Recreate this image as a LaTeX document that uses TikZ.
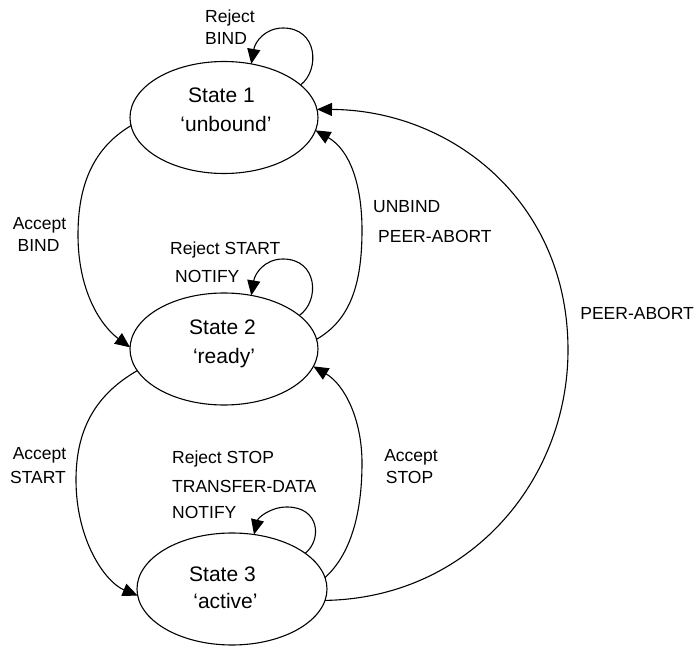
\documentclass[tikz,border=0pt]{standalone}
\usepackage{fontspec}
\setmainfont{Liberation Sans}
\usetikzlibrary{shapes.geometric,arrows.meta}
\begin{document}
\begin{tikzpicture}[x=1pt,y=-1pt,
  state/.style={ellipse,draw,line width=1.1pt,minimum width=188pt,minimum height=112pt,inner sep=0pt,outer sep=0pt},
  stxt/.style={font=\fontsize{21}{28}\selectfont,inner sep=0pt,anchor=base},
  lbl/.style={font=\fontsize{17.5}{21}\selectfont,inner sep=0pt,anchor=base west},
  lblc/.style={font=\fontsize{17.5}{21}\selectfont,inner sep=0pt,anchor=base},
  lble/.style={font=\fontsize{17.5}{21}\selectfont,inner sep=0pt,anchor=base east},
  edge/.style={line width=1.1pt,-{Triangle[length=15pt,width=13pt]}}
]
\useasboundingbox (0,0) rectangle (697,647);
% states
\node[state] (s1) at (224,117.5) {};
\node[state] (s2) at (224,349) {};
\node[state,minimum width=190pt] (s3) at (232,589) {};
\node[stxt] (s1a) at (221.5,103) {State 1};
\node[stxt] (s1b) at (226,132) {‘unbound’};
\node[stxt] (s2a) at (222.5,335) {State 2};
\node[stxt] (s2b) at (224,363) {‘ready’};
\node[stxt] (s3a) at (222.5,581) {State 3};
\node[stxt] (s3b) at (225.5,608) {‘active’};
% labels
\node[lbl] (l1a) at (205,22.5) {Reject};
\node[lbl] (l1b) at (205,44.5) {BIND};
\node[lblc] (l2a) at (39.5,230) {Accept};
\node[lblc] (l2b) at (38.5,252) {BIND};
\node[lbl] (l3a) at (170,255) {Reject START};
\node[lbl] (l3b) at (175,283) {NOTIFY};
\node[lbl] (l4a) at (373,213) {UNBIND};
\node[lbl] (l4b) at (378,243) {PEER-ABORT};
\node[lble] (l5) at (694,320) {PEER-ABORT};
\node[lblc] (l6a) at (39.5,460) {Accept};
\node[lblc] (l6b) at (38,483) {START};
\node[lbl] (l7a) at (172,463) {Reject STOP};
\node[lbl] (l7b) at (172,492) {TRANSFER-DATA};
\node[lbl] (l7c) at (172,518) {NOTIFY};
\node[lblc] (l8a) at (411,461) {Accept};
\node[lblc] (l8b) at (409.5,483) {STOP};
% connectors
\draw[edge] (s1.185) .. controls (90,150) and (78,190) .. (78,235) .. controls (78,290) and (100,325) .. (s2.179);
\draw[edge] (s2.194) .. controls (95,395) and (76,430) .. (76,480) .. controls (76,540) and (105,582) .. (s3.184);
\draw[edge] (s2.6) .. controls (350,320) and (362,285) .. (362,230) .. controls (362,185) and (350,150) .. (s1.352);
\draw[edge] (s3.7) .. controls (350,555) and (362,515) .. (362,463) .. controls (362,420) and (345,385) .. (s2.349);
\draw[edge] (s3.353) .. controls (470,598) and (568,480) .. (568,350) .. controls (568,200) and (450,110) .. (s1.5);
% self loops
\draw[edge] (s1.23) .. controls (320,70) and (318,28) .. (283,28) .. controls (265,28) and (255,42) .. (s1.63);
\draw[edge] (s2.24) .. controls (320,301) and (318,259) .. (283,259) .. controls (265,259) and (255,273) .. (s2.63);
\draw[edge] (s3.26) .. controls (322,540) and (320,507) .. (287,507) .. controls (270,507) and (258,518) .. (s3.68);
\end{tikzpicture}
\end{document}
